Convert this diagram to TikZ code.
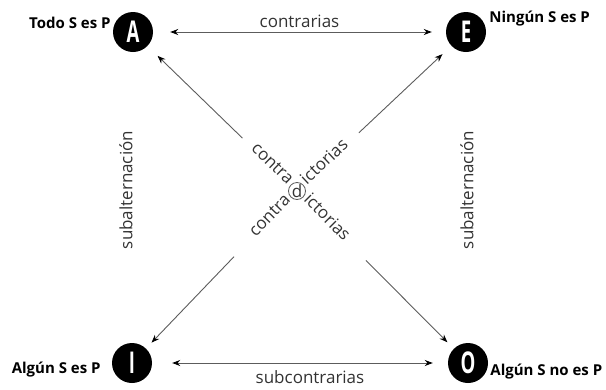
\documentclass[tikz,border=0pt]{standalone}
\usepackage{fontspec}
\setmainfont{Open Sans}
\usetikzlibrary{arrows.meta, positioning, calc}
\definecolor{lngray}{HTML}{5C5C5C}
\definecolor{txgray}{HTML}{333333}

\begin{document}
\begin{tikzpicture}[x=1pt, y=-1pt,
  >={Stealth[length=8pt, width=6pt, color=black]},
  vertex/.style={circle, fill=black, minimum size=40pt, inner sep=0pt, text=white, font=\fontsize{30}{30}\selectfont\bfseries},
  prop/.style={font=\fontsize{15}{17}\selectfont\bfseries, text=black, inner sep=1pt},
  rel/.style={font=\fontsize{17}{19}\selectfont, text=txgray, inner sep=1pt},
  link/.style={lngray, line width=0.9pt, ->},
]

% Canvas
\useasboundingbox (0,0) rectangle (606,389);

% Corners of the square
\node[vertex] (A) at (133,32) {\scalebox{0.62}[1]{A}};
\node[vertex] (E) at (466,32) {\scalebox{0.62}[1]{E}};
\node[vertex] (I) at (132,363) {\scalebox{0.62}[1]{I}};
\node[vertex] (O) at (468,363) {\scalebox{0.62}[1]{O}};

% Propositions
\node[prop, left=1pt of A, yshift=9pt] (pA) {Todo S es P};
\node[prop, right=2pt of E, yshift=13pt] (pE) {Ningún S es P};
\node[prop, left=10pt of I, yshift=-7pt] (pI) {Algún S es P};
\node[prop, right=1pt of O, yshift=-9pt] (pO) {Algún S no es P};

% Contrarias / subcontrarias
\draw[link, <->, shorten <=17pt, shorten >=14pt] (A) -- (E)
  node[rel, midway, above=3pt] (lc) {contrarias};
\draw[link, <->, shorten <=20pt, shorten >=15pt] (I) -- (O)
  node[rel, midway, below=6pt, xshift=10pt] (ls) {subcontrarias};

% Subalternacion
\node[rel, rotate=90] (sl) at (126,190) {subalternación};
\node[rel, rotate=90] (sr) at (467,190) {subalternación};

% Centre
\node[circle, draw=lngray, line width=0.8pt, minimum size=17pt, inner sep=0pt, font=\fontsize{17}{17}\selectfont, text=txgray] (d) at (297,191) {d};

% Contradictorias
\draw[link, shorten <=67pt, shorten >=14pt] (d) -- (A);
\draw[link, shorten <=76pt, shorten >=12pt] (d) -- (E);
\draw[link, shorten <=82pt, shorten >=8pt] (d) -- (I);
\draw[link, shorten <=89pt, shorten >=9pt] (d) -- (O);

\node[rel, rotate=-44, anchor=mid east] (c1) at ($(d)!10pt!(A)$) {contra};
\node[rel, rotate=43, anchor=mid west] (c2) at ($(d)!10pt!(E)$) {ictorias};
\node[rel, rotate=46, anchor=mid east] (c3) at ($(d)!10pt!(I)$) {contra};
\node[rel, rotate=-45, anchor=mid west] (c4) at ($(d)!10pt!(O)$) {ictorias};

\end{tikzpicture}
\end{document}
